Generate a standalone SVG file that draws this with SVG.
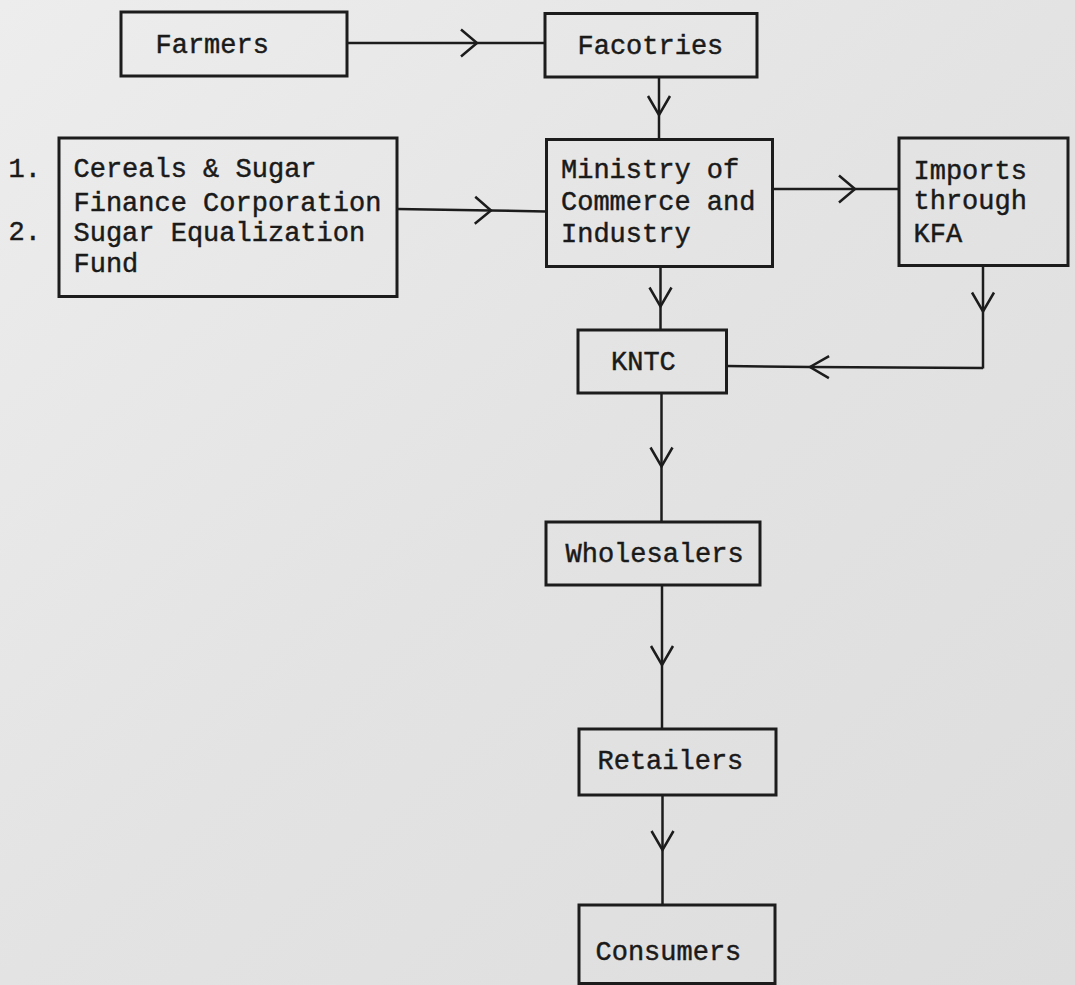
<svg xmlns="http://www.w3.org/2000/svg" width="1075" height="985" viewBox="0 0 1075 985">
  <style>
    .box { fill: none; stroke: #1c1c1c; stroke-width: 3; }
    .lbl { font-family: "Liberation Mono", "DejaVu Sans Mono", monospace; font-size: 27px; fill: #1a1a1a; stroke: #1a1a1a; stroke-width: 0.45; }
    .con { fill: none; stroke: #1c1c1c; stroke-width: 2.5; }
  </style>
  <defs>
    <linearGradient id="bg" x1="0" y1="0" x2="1" y2="1">
      <stop offset="0" stop-color="#ededed"/>
      <stop offset="0.5" stop-color="#e3e3e3"/>
      <stop offset="1" stop-color="#dddddd"/>
    </linearGradient>
    <marker id="chev" markerUnits="userSpaceOnUse" viewBox="-20 -16 24 32" refX="0" refY="0" markerWidth="24" markerHeight="32" orient="auto">
      <path d="M-16,-13.5 L0,0 L-16,13.5" fill="none" stroke="#1c1c1c" stroke-width="2.5"/>
    </marker>
    <marker id="chevv" markerUnits="userSpaceOnUse" viewBox="-24 -14 28 28" refX="0" refY="0" markerWidth="28" markerHeight="28" orient="auto">
      <path d="M-19,-11 L0,0 L-19,11" fill="none" stroke="#1c1c1c" stroke-width="2.5"/>
    </marker>
  </defs>
  <rect x="0" y="0" width="1075" height="985" fill="url(#bg)"/>

  <g id="connectors">
    <path class="con" d="M347,43 L477,43 L545,43" marker-mid="url(#chev)"/>
    <path class="con" d="M397,209 L491,210.5 L546,211.5" marker-mid="url(#chev)"/>
    <path class="con" d="M659,77 L659,115 L659,139.5" marker-mid="url(#chevv)"/>
    <path class="con" d="M772.5,189 L855,189 L899,189" marker-mid="url(#chev)"/>
    <path class="con" d="M660.5,266.5 L660.5,306.5 L660.5,330" marker-mid="url(#chevv)"/>
    <path class="con" d="M983,265.5 L983,311.5 L983,368.5" marker-mid="url(#chevv)"/>
    <path class="con" d="M983,368 L810,367 L726.5,366" marker-mid="url(#chevv)"/>
    <path class="con" d="M661.5,393 L661.5,466.5 L661.5,522" marker-mid="url(#chevv)"/>
    <path class="con" d="M662,585 L662,665 L662,729" marker-mid="url(#chevv)"/>
    <path class="con" d="M662.5,795 L662.5,850 L662.5,905" marker-mid="url(#chevv)"/>
  </g>

  <g id="farmers">
    <rect class="box" x="121" y="12" width="226" height="64"/>
    <text class="lbl" x="155.5" y="53">Farmers</text>
  </g>
  <g id="factories">
    <rect class="box" x="545" y="13.5" width="212" height="63.5"/>
    <text class="lbl" x="577.5" y="53.5">Facotries</text>
  </g>
  <g id="finance">
    <text class="lbl" x="8.5" y="177">1.</text>
    <text class="lbl" x="8.5" y="240">2.</text>
    <rect class="box" x="59" y="138" width="338" height="158.5"/>
    <text class="lbl" x="73.5" y="177">Cereals &amp; Sugar</text>
    <text class="lbl" x="73.5" y="210.5">Finance Corporation</text>
    <text class="lbl" x="73.5" y="240.5">Sugar Equalization</text>
    <text class="lbl" x="73.5" y="272">Fund</text>
  </g>
  <g id="ministry">
    <rect class="box" x="546.5" y="139.5" width="226" height="127"/>
    <text class="lbl" x="561" y="178">Ministry of</text>
    <text class="lbl" x="561" y="210">Commerce and</text>
    <text class="lbl" x="561" y="242">Industry</text>
  </g>
  <g id="imports">
    <rect class="box" x="899" y="138" width="169" height="127.5"/>
    <text class="lbl" x="913.5" y="178.5">Imports</text>
    <text class="lbl" x="913.5" y="209">through</text>
    <text class="lbl" x="913.5" y="241.5">KFA</text>
  </g>
  <g id="kntc">
    <rect class="box" x="578" y="330" width="148.5" height="63"/>
    <text class="lbl" x="611" y="370">KNTC</text>
  </g>
  <g id="wholesalers">
    <rect class="box" x="546" y="522" width="214" height="63"/>
    <text class="lbl" x="565.5" y="561.5">Wholesalers</text>
  </g>
  <g id="retailers">
    <rect class="box" x="579" y="729" width="197" height="66"/>
    <text class="lbl" x="597.5" y="769">Retailers</text>
  </g>
  <g id="consumers">
    <rect class="box" x="579" y="905" width="196" height="78.5"/>
    <text class="lbl" x="595.5" y="960">Consumers</text>
  </g>
</svg>
